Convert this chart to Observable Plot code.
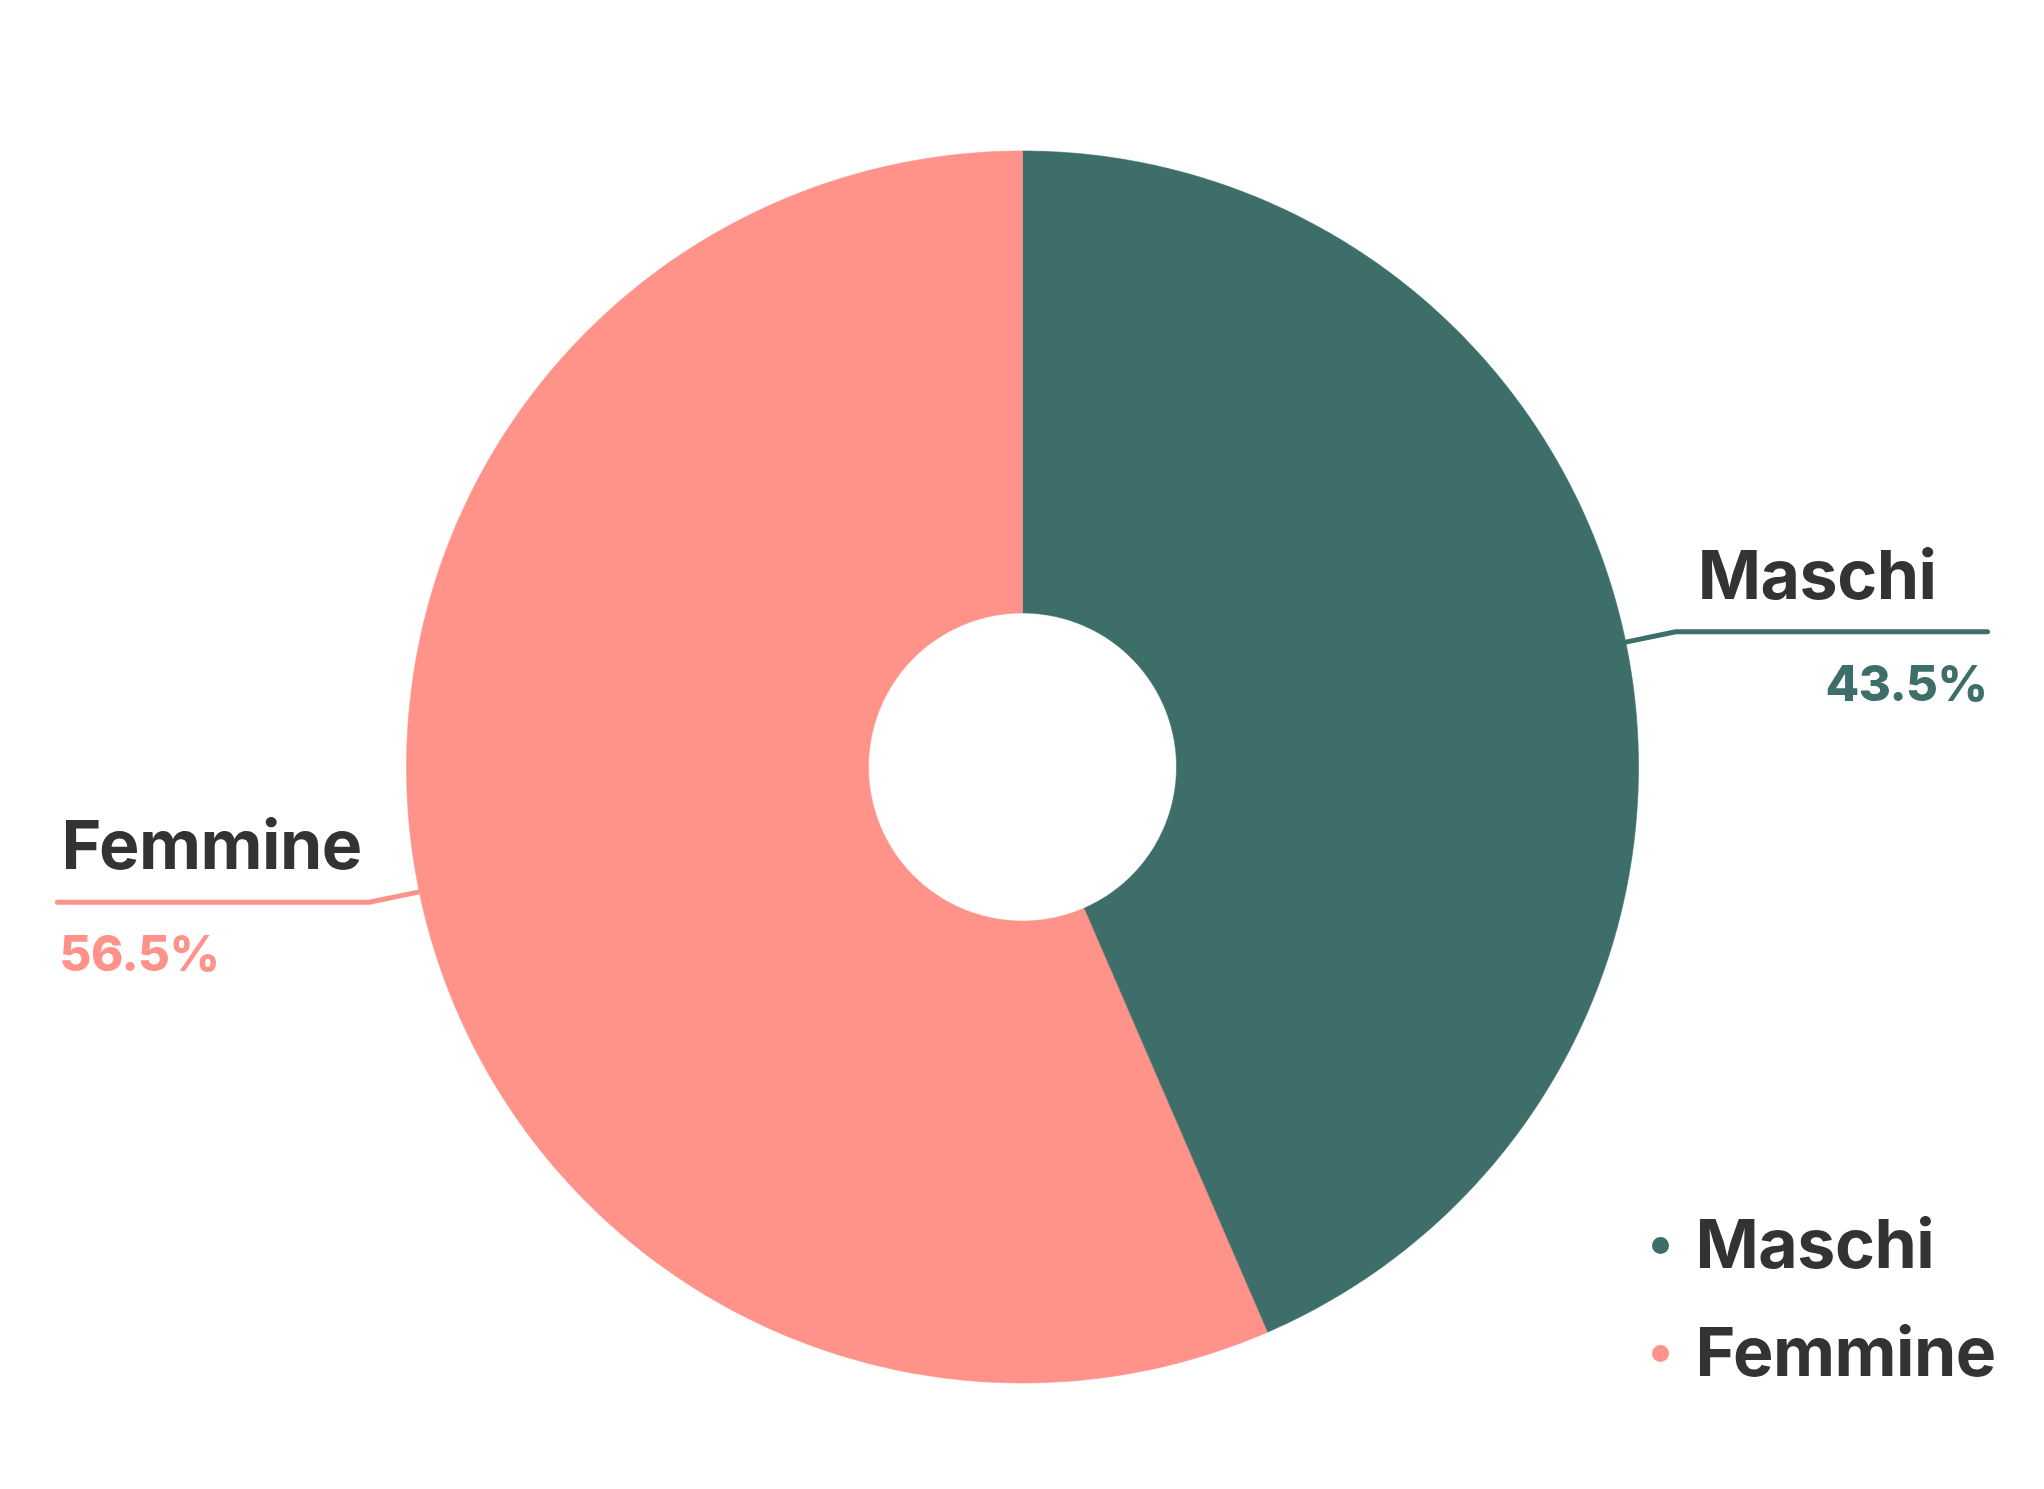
<!DOCTYPE html>
<html>
<head>
<meta charset="utf-8">
<script src="https://cdn.jsdelivr.net/npm/d3@7"></script>
<script src="https://cdn.jsdelivr.net/npm/@observablehq/plot@0.6"></script>
<style>
  html, body { margin: 0; padding: 0; background: #fff; }
  #chart svg { display: block; }
  #chart svg text { letter-spacing: -0.5px; }
</style>
</head>
<body>
<div id="chart"></div>
<script>
// ---- data ----
const categories = ["Maschi", "Femmine"];
const values = [43.5, 56.5];
const percentLabels = ["43.5%", "56.5%"];
const colors = ["#3d6e6a", "#ff938a"];

// ---- layout ----
const W = 2044, H = 1489;
const Rpx = 616;            // outer radius in px
const cxPx = 1022, cyPx = 766.5;
const innerRatio = 0.25;
const elbowRatio = 1.083;
const lineEndX = 965 / Rpx;  // horizontal extent of leaders (unit radius)
const textColor = "#333333";
const font = "Inter, Lato, 'Open Sans', sans-serif";

const pie = d3.pie().sort(null).value(d => d)(values);

// slice polygons
const slices = pie.map((p, i) => {
  const n = 240;
  const pts = [];
  for (let k = 0; k <= n; k++) {
    const a = p.startAngle + (p.endAngle - p.startAngle) * k / n;
    pts.push({x: Math.sin(a), y: Math.cos(a)});
  }
  for (let k = n; k >= 0; k--) {
    const a = p.startAngle + (p.endAngle - p.startAngle) * k / n;
    pts.push({x: innerRatio * Math.sin(a), y: innerRatio * Math.cos(a)});
  }
  return pts;
});

// leader lines
const leaders = pie.map((p, i) => {
  const a = (p.startAngle + p.endAngle) / 2;
  const s = Math.sin(a), c = Math.cos(a);
  const side = s >= 0 ? 1 : -1;
  const ex = elbowRatio * s, ey = elbowRatio * c;
  return {
    side, ex, ey,
    pts: [{x: s, y: c}, {x: ex, y: ey}, {x: side * lineEndX, y: ey}]
  };
});

const labelData = leaders.map((l, i) => ({
  name: categories[i],
  pct: percentLabels[i],
  color: colors[i],
  side: l.side,
  nameX: l.side > 0 ? l.ex + 22 / Rpx : -lineEndX + 4 / Rpx,
  pctX: l.side > 0 ? lineEndX : -lineEndX + 2 / Rpx,
  y: l.ey
}));

// legend (pixel layout -> unit coordinates)
const toX = px => (px - cxPx) / Rpx;
const toY = py => (cyPx - py) / Rpx;
const legendData = categories.map((c, i) => ({
  name: c, color: colors[i],
  x: toX(1660), y: toY(1245 + i * 108)
}));

const marks = [];
slices.forEach((pts, i) => {
  marks.push(Plot.line(pts, {x: "x", y: "y", fill: colors[i], stroke: colors[i], strokeWidth: 0.6, curve: "linear-closed"}));
});
leaders.forEach((l, i) => {
  marks.push(Plot.line(l.pts, {x: "x", y: "y", stroke: colors[i], strokeWidth: 5, strokeLinecap: "round", strokeLinejoin: "round"}));
});
marks.push(Plot.text(labelData, {
  x: "nameX", y: "y", text: "name",
  textAnchor: "start", lineAnchor: "bottom", dy: -33,
  fontSize: 68, fontWeight: 700, fill: textColor, fontFamily: font
}));
labelData.forEach(d => {
  marks.push(Plot.text([d], {
    x: "pctX", y: "y", text: "pct",
    textAnchor: d.side > 0 ? "end" : "start",
    lineAnchor: "bottom", dy: 69,
    fontSize: 49, fontWeight: 800, fill: d.color, fontFamily: font
  }));
});
marks.push(Plot.dot(legendData, {x: "x", y: "y", r: 8.5, fill: d => d.color, stroke: null}));
marks.push(Plot.text(legendData, {
  x: "x", y: "y", text: "name", dx: 35, dy: 22,
  textAnchor: "start", lineAnchor: "bottom",
  fontSize: 68, fontWeight: 700, fill: textColor, fontFamily: font
}));

const chart = Plot.plot({
  width: W, height: H,
  margin: 0,
  style: {background: "#fff", fontFamily: font},
  x: {domain: [-cxPx / Rpx, (W - cxPx) / Rpx], range: [0, W], axis: null},
  y: {domain: [-(H - cyPx) / Rpx, cyPx / Rpx], range: [H, 0], axis: null},
  color: {type: "identity"},
  marks
});
document.getElementById("chart").appendChild(chart);
</script>
</body>
</html>
